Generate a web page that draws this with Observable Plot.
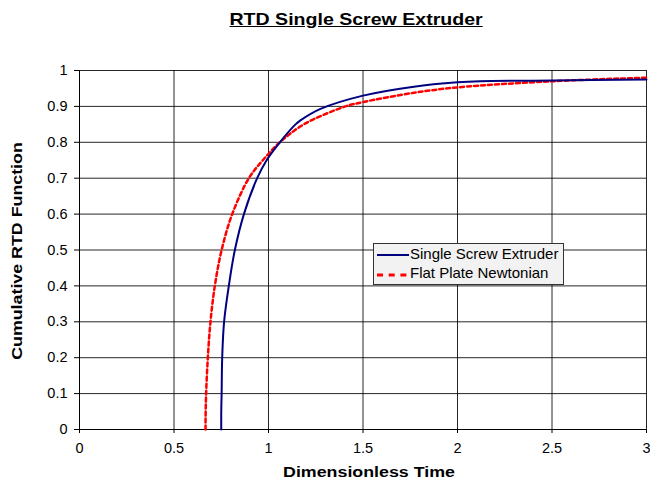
<!DOCTYPE html>
<html>
<head>
<meta charset="utf-8">
<script src="https://cdn.jsdelivr.net/npm/d3@7"></script>
<script src="https://cdn.jsdelivr.net/npm/@observablehq/plot@0.6"></script>
<style>
  body { margin: 0; background: #fff; font-family: "Liberation Sans", Arial, sans-serif; }
  #wrap { position: relative; width: 650px; height: 487px; }
  #title { position: absolute; left: 0; top: 0; width: 650px; height: 50px; text-align: center; padding-left: 62px; box-sizing: border-box; padding-top: 10px; }
  #title span { display: inline-block; font-weight: bold; font-size: 17px; line-height: 20px; text-decoration: underline; transform: scaleX(1.15); }
  #chart { position: absolute; left: 0; top: 50px; }
  #legend { position: absolute; left: 373px; top: 243px; width: 191px; height: 42px; box-sizing: border-box; border: 1px solid #333; background: #f2f2f2; font-size: 15px; }
  .row { position: absolute; left: 0; height: 18px; line-height: 18px; white-space: nowrap; }
  .row svg { position: absolute; left: 0; top: 0; }
  .row span { position: absolute; left: 36px; top: 0; }
</style>
</head>
<body>
<div id="wrap">
  <div id="title"><span>RTD Single Screw Extruder</span></div>
  <div id="chart"></div>
  <div id="legend"></div>
</div>
<script>
const seriesNames = ["Single Screw Extruder", "Flat Plate Newtonian"];
const seriesColors = ["#000080", "#ff0000"];
const screwTime = [0.75, 0.75, 0.752, 0.755, 0.765, 0.79, 0.822, 0.87, 0.94, 0.99, 1.06, 1.143, 1.169, 1.275, 1.5, 1.769, 2.0, 2.12, 2.5, 3.0];
const screwF    = [0, 0.05, 0.1, 0.2, 0.3, 0.4, 0.5, 0.6, 0.7, 0.75, 0.8, 0.85, 0.861, 0.893, 0.93, 0.955, 0.967, 0.97, 0.972, 0.975];
const plateTime = [0.667, 0.667, 0.670, 0.679, 0.693, 0.716, 0.752, 0.808, 0.896, 0.97, 1.06, 1.187, 1.407, 1.5, 1.77, 2.0, 2.5, 3.0];
const plateF    = [0, 0.03, 0.1, 0.2, 0.3, 0.4, 0.5, 0.6, 0.7, 0.75, 0.8, 0.85, 0.9, 0.912, 0.938, 0.953, 0.970, 0.980];
const xTicks = [0, 0.5, 1, 1.5, 2, 2.5, 3];
const yTicks = [0, 0.1, 0.2, 0.3, 0.4, 0.5, 0.6, 0.7, 0.8, 0.9, 1];
const xTitle = "Dimensionless Time";
const yTitle = "Cumulative RTD Function";

const screw = screwTime.map((t, i) => ({t, f: screwF[i]}));
const plate = plateTime.map((t, i) => ({t, f: plateF[i]}));
const fmt = d3.format("~g");

const chart = Plot.plot({
  width: 650,
  height: 437,
  marginLeft: 79,
  marginRight: 4,
  marginTop: 20,
  marginBottom: 58,
  style: {fontFamily: "Liberation Sans, Arial, sans-serif", fontSize: "14.5px", color: "#000", background: "#fff"},
  x: {domain: [0, 3]},
  y: {domain: [0, 1]},
  marks: [
    Plot.gridX(xTicks, {stroke: "#000", strokeOpacity: 0.85}),
    Plot.gridY(yTicks, {stroke: "#000", strokeOpacity: 0.85}),
    Plot.axisX({ticks: xTicks, tickFormat: fmt, tickSize: 4, tickPadding: 9, label: null, fontSize: 14.5}),
    Plot.axisY({ticks: yTicks, tickFormat: fmt, tickSize: 5, tickPadding: 7, label: null, fontSize: 14.5}),
    Plot.ruleX([0], {stroke: "#000"}),
    Plot.ruleY([0], {stroke: "#000"}),
    Plot.line(plate, {x: "t", y: "f", stroke: seriesColors[1], strokeWidth: 2.5, strokeDasharray: "4,3", curve: "catmull-rom"}),
    Plot.line(screw, {x: "t", y: "f", stroke: seriesColors[0], strokeWidth: 2, curve: "catmull-rom"}),
    Plot.text([xTitle], {frameAnchor: "bottom", dx: 6, dy: 47, textAnchor: "middle", fontWeight: "bold", fontSize: 15.5, fill: "#000"}),
    Plot.text([yTitle], {frameAnchor: "left", dx: -62, dy: 1, rotate: -90, textAnchor: "middle", fontWeight: "bold", fontSize: 15.5, fill: "#000"})
  ]
});
document.getElementById("chart").appendChild(chart);

// widen the bold axis titles along their baseline
d3.select(chart).selectAll("text").each(function () {
  const t = this.textContent;
  if (t === xTitle || t === yTitle) {
    const tr = this.getAttribute("transform") || "";
    this.setAttribute("transform", tr + " scale(1.15,1)");
  }
});

const legend = document.getElementById("legend");
seriesNames.forEach((name, i) => {
  const row = document.createElement("div");
  row.className = "row";
  row.style.top = (1 + i * 19) + "px";
  row.style.width = "189px";
  row.innerHTML = `<svg width="36" height="18"><line x1="3" x2="35" y1="${i ? 11 : 10}" y2="${i ? 11 : 10}" stroke="${seriesColors[i]}" stroke-width="${i ? 3 : 2}" ${i ? 'stroke-dasharray="6,5.7"' : ''}/></svg><span>${name}</span>`;
  legend.appendChild(row);
});
</script>
</body>
</html>
